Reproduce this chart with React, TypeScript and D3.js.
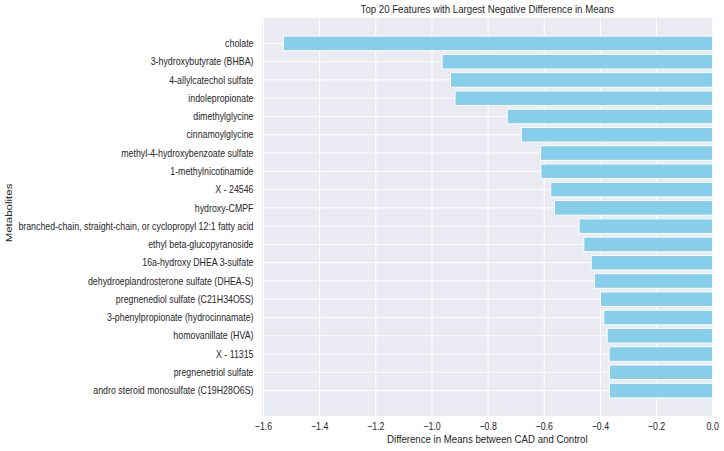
import React, { useEffect, useRef } from "react";
import * as d3 from "d3";

// metabolite names, top to bottom
const metabolites = [
  "cholate",
  "3-hydroxybutyrate (BHBA)",
  "4-allylcatechol sulfate",
  "indolepropionate",
  "dimethylglycine",
  "cinnamoylglycine",
  "methyl-4-hydroxybenzoate sulfate",
  "1-methylnicotinamide",
  "X - 24546",
  "hydroxy-CMPF",
  "branched-chain, straight-chain, or cyclopropyl 12:1 fatty acid",
  "ethyl beta-glucopyranoside",
  "16a-hydroxy DHEA 3-sulfate",
  "dehydroepiandrosterone sulfate (DHEA-S)",
  "pregnenediol sulfate (C21H34O5S)",
  "3-phenylpropionate (hydrocinnamate)",
  "homovanillate (HVA)",
  "X - 11315",
  "pregnenetriol sulfate",
  "andro steroid monosulfate (C19H28O6S)",
];

// difference in means (CAD - Control)
const meanDiffs = [
  -1.529, -0.964, -0.934, -0.918, -0.732, -0.682, -0.613, -0.612, -0.577, -0.564,
  -0.476, -0.459, -0.433, -0.421, -0.4, -0.388, -0.376, -0.369, -0.368, -0.368,
];

const xTicks = [-1.6, -1.4, -1.2, -1.0, -0.8, -0.6, -0.4, -0.2, 0.0];

const W = 724;
const H = 451;
const FONT = "'Liberation Sans', Arial, sans-serif";
// text is drawn slightly condensed
const SQUEEZE = 0.84;

const App = () => {
  const svgRef = useRef<SVGSVGElement>(null);

  useEffect(() => {
    const svg = d3.select(svgRef.current);
    svg.selectAll("*").remove();

    const plot = { left: 262, right: 712.7, top: 18, bottom: 416 };

    const xMin = d3.min(meanDiffs) as number;
    const x = d3.scaleLinear()
      .domain([xMin * 1.05, 0])
      .range([plot.left, plot.right]);

    const barH = 0.8;
    const pad = (metabolites.length - 1 + barH) * 0.05;
    const y = d3.scaleLinear()
      .domain([-barH / 2 - pad, metabolites.length - 1 + barH / 2 + pad])
      .range([plot.top, plot.bottom]);

    const at = (px: number, py: number, rot = 0) =>
      `translate(${px},${py}) scale(${SQUEEZE},1)` + (rot ? ` rotate(${rot})` : "");

    svg.append("rect")
      .attr("x", plot.left)
      .attr("y", plot.top)
      .attr("width", plot.right - plot.left)
      .attr("height", plot.bottom - plot.top)
      .attr("fill", "#eaeaf2");

    // grid
    svg.append("g")
      .selectAll("line")
      .data(xTicks)
      .join("line")
      .attr("x1", d => x(d))
      .attr("x2", d => x(d))
      .attr("y1", plot.top)
      .attr("y2", plot.bottom)
      .attr("stroke", "white")
      .attr("stroke-width", 1);

    svg.append("g")
      .selectAll("line")
      .data(metabolites)
      .join("line")
      .attr("x1", plot.left)
      .attr("x2", plot.right)
      .attr("y1", (d, i) => y(i))
      .attr("y2", (d, i) => y(i))
      .attr("stroke", "white")
      .attr("stroke-width", 1);

    // bars
    svg.append("g")
      .selectAll("rect")
      .data(meanDiffs)
      .join("rect")
      .attr("x", d => x(d))
      .attr("y", (d, i) => y(i - barH / 2))
      .attr("width", d => x(0) - x(d))
      .attr("height", y(barH) - y(0))
      .attr("fill", "#87ceeb")
      .attr("stroke", "white")
      .attr("stroke-width", 1);

    // y tick labels
    svg.append("g")
      .selectAll("text")
      .data(metabolites)
      .join("text")
      .attr("transform", (d, i) => at(plot.left - 8.5, y(i)))
      .attr("dy", "0.35em")
      .attr("text-anchor", "end")
      .attr("font-family", FONT)
      .attr("font-size", 10.5)
      .attr("fill", "#262626")
      .text(d => d);

    // x tick labels
    svg.append("g")
      .selectAll("text")
      .data(xTicks)
      .join("text")
      .attr("transform", d => at(x(d), plot.bottom + 13.5))
      .attr("text-anchor", "middle")
      .attr("font-family", FONT)
      .attr("font-size", 10.5)
      .attr("fill", "#262626")
      .text(d => d3.format(".1f")(d).replace("-", "\u2212"));

    svg.append("text")
      .attr("transform", at((plot.left + plot.right) / 2, plot.bottom + 26.5))
      .attr("text-anchor", "middle")
      .attr("font-family", FONT)
      .attr("font-size", 11.5)
      .attr("fill", "#262626")
      .text("Difference in Means between CAD and Control");

    svg.append("text")
      .attr("transform", at(12, 213, -90))
      .attr("text-anchor", "middle")
      .attr("font-family", FONT)
      .attr("font-size", 11.5)
      .attr("fill", "#262626")
      .text("Metabolites");

    svg.append("text")
      .attr("transform", at((plot.left + plot.right) / 2, 13))
      .attr("text-anchor", "middle")
      .attr("font-family", FONT)
      .attr("font-size", 11.5)
      .attr("fill", "#262626")
      .text("Top 20 Features with Largest Negative Difference in Means");
  }, []);

  return (
    <svg
      ref={svgRef}
      width={W}
      height={H}
      style={{ position: "absolute", left: 0, top: 0, background: "white" }}
    />
  );
};

export default App;
